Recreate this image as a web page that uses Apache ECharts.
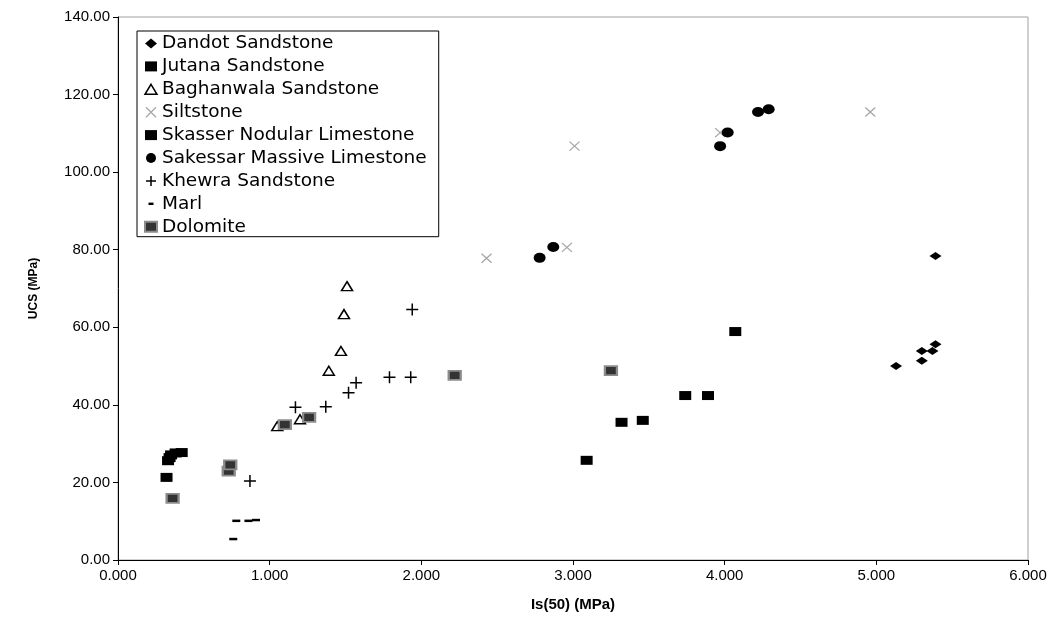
<!DOCTYPE html>
<html>
<head>
<meta charset="utf-8">
<script src="https://cdn.jsdelivr.net/npm/echarts@6/dist/echarts.min.js"></script>
<style>
  html, body { margin: 0; padding: 0; background: #fff; }
  #chart { width: 1060px; height: 620px; }
</style>
</head>
<body>
<div id="chart"></div>
<script>
// Is(50) (MPa), UCS (MPa) pairs
const dandot = [[5.13, 50.0], [5.30, 51.4], [5.30, 53.9], [5.37, 53.9], [5.39, 55.6], [5.39, 78.4]];
const jutana = [[0.32, 21.3], [0.33, 25.6], [0.34, 26.4], [0.35, 27.1], [0.38, 27.6], [0.42, 27.7]];
const baghanwala = [[1.05, 34.5], [1.20, 36.3], [1.39, 48.8], [1.47, 53.9], [1.49, 63.4], [1.51, 70.6]];
const siltstone = [[2.43, 77.8], [2.96, 80.6], [3.01, 106.7], [3.97, 110.2], [4.96, 115.5]];
const skasser = [[3.09, 25.7], [3.32, 35.5], [3.46, 36.0], [3.74, 42.4], [3.89, 42.4], [4.07, 58.9]];
const sakessar = [[2.78, 77.9], [2.87, 80.7], [3.97, 106.7], [4.02, 110.2], [4.22, 115.5], [4.29, 116.2]];
const khewra = [[0.87, 20.4], [1.17, 39.4], [1.37, 39.5], [1.52, 43.1], [1.57, 45.7], [1.79, 47.1], [1.93, 47.1], [1.94, 64.6]];
const marl = [[0.76, 5.4], [0.78, 10.1], [0.86, 10.1], [0.91, 10.3]];
const dolomite = [[0.36, 15.9], [0.73, 22.9], [0.74, 24.5], [1.10, 34.9], [1.26, 36.8], [2.22, 47.6], [3.25, 48.8]];

const xTicks = ['0.000', '1.000', '2.000', '3.000', '4.000', '5.000', '6.000'];
const yTicks = ['0.00', '20.00', '40.00', '60.00', '80.00', '100.00', '120.00', '140.00'];

const crossPath = 'path://M0 0 L10 10 M10 0 L0 10';
const plusPath = 'path://M0 5 L10 5 M5 0 L5 10';
const dashPath = 'path://M0 0 L8 0 L8 2.4 L0 2.4 Z';
const dashLegend = 'path://M0 0 M12 10 M3.5 3.8 L8.5 3.8 L8.5 6.2 L3.5 6.2 Z';

const font = 'Liberation Sans, Arial, sans-serif';

function pts(name, data, symbol, size, style) {
  return {
    name: name,
    type: 'scatter',
    data: data,
    symbol: symbol,
    symbolSize: size,
    itemStyle: style,
    emphasis: { disabled: true }
  };
}

const series = [
  pts('Dandot Sandstone', dandot, 'diamond', [12, 8], { color: '#000', opacity: 1 }),
  pts('Jutana Sandstone', jutana, 'rect', [12, 9], { color: '#000', opacity: 1 }),
  pts('Baghanwala Sandstone', baghanwala, 'triangle', [11, 9], { color: '#fff', borderColor: '#000', borderWidth: 1.5, opacity: 1 }),
  pts('Siltstone', siltstone, crossPath, [10, 9], { color: '#a8a8a8', borderColor: '#a8a8a8', borderWidth: 1.3, opacity: 1 }),
  pts('Skasser Nodular Limestone', skasser, 'rect', [12, 9], { color: '#000', opacity: 1 }),
  pts('Sakessar Massive Limestone', sakessar, 'circle', [12, 10], { color: '#000', opacity: 1 }),
  pts('Khewra Sandstone', khewra, plusPath, [12, 12], { color: '#000', borderColor: '#000', borderWidth: 1.5, opacity: 1 }),
  pts('Marl', marl, dashPath, [8, 2.5], { color: '#000', opacity: 1 }),
  pts('Dolomite', dolomite, 'rect', [12, 9], { color: '#333', borderColor: '#8c8c8c', borderWidth: 2, opacity: 1 })
];

const legendData = series.map(s => {
  const item = { name: s.name, itemStyle: { borderWidth: s.itemStyle.borderWidth || 0 } };
  if (s.name === 'Marl') item.icon = dashLegend;
  return item;
});

const chart = echarts.init(document.getElementById('chart'));
chart.setOption({
  animation: false,
  backgroundColor: '#fff',
  grid: {
    left: 118, right: 32, top: 17, bottom: 60,
    show: true, borderColor: '#a0a0a0', borderWidth: 1
  },
  legend: {
    orient: 'vertical',
    left: 137, top: 31,
    data: legendData,
    itemWidth: 12, itemHeight: 10, itemGap: 3.9,
    padding: [3, 12, 0.5, 7],
    borderColor: '#000', borderWidth: 1,
    backgroundColor: '#fff',
    selectedMode: false,
    textStyle: { fontFamily: 'DejaVu Sans, sans-serif', fontSize: 18.5, color: '#000', lineHeight: 18, padding: [0, 0, 0, 0] }
  },
  xAxis: {
    type: 'value',
    min: 0, max: 6, interval: 1,
    name: 'Is(50) (MPa)',
    nameLocation: 'middle',
    nameGap: 37,
    nameTextStyle: { fontFamily: font, fontSize: 15, fontWeight: 'bold', color: '#000' },
    axisLine: { onZero: false, lineStyle: { color: '#000', width: 1 } },
    axisTick: { show: true, length: 5, lineStyle: { color: '#000' } },
    axisLabel: {
      margin: 8, fontFamily: font, fontSize: 15, color: '#000',
      formatter: (v) => xTicks[Math.round(v)]
    },
    splitLine: { show: false }
  },
  yAxis: {
    type: 'value',
    min: 0, max: 140, interval: 20,
    name: 'UCS (MPa)',
    nameLocation: 'middle',
    nameGap: 78,
    nameTextStyle: { fontFamily: font, fontSize: 12, fontWeight: 'bold', color: '#000' },
    axisLine: { show: true, onZero: false, lineStyle: { color: '#000', width: 1 } },
    axisTick: { show: true, length: 5, lineStyle: { color: '#000' } },
    axisLabel: {
      margin: 8, fontFamily: font, fontSize: 15, color: '#000',
      formatter: (v) => yTicks[Math.round(v / 20)]
    },
    splitLine: { show: false }
  },
  series: series
});
</script>
</body>
</html>
